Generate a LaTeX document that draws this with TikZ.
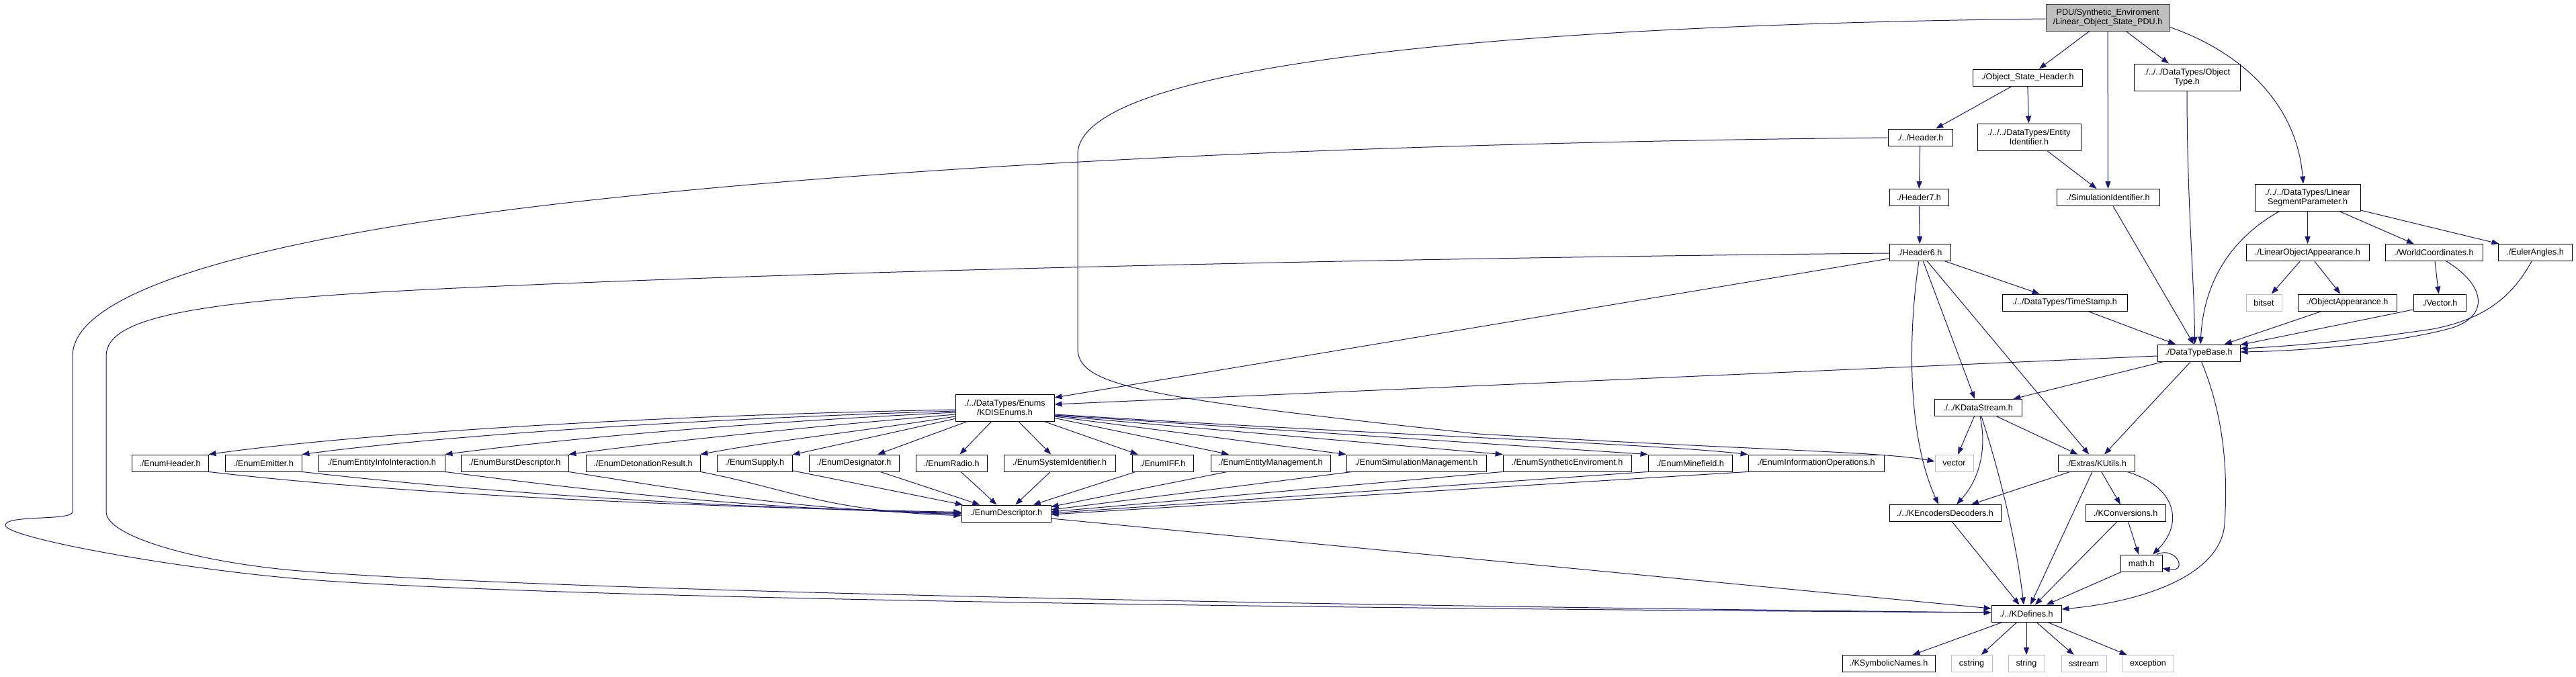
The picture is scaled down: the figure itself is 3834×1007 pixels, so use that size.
\documentclass[tikz,border=0pt]{standalone}
\usepackage{fontspec}
\setmainfont{Liberation Sans}
\usetikzlibrary{arrows.meta}
\definecolor{edgeblue}{HTML}{191970}
\definecolor{grayfill}{HTML}{BFBFBF}
\definecolor{sysgray}{HTML}{BFBFBF}
\definecolor{darkborder}{HTML}{404040}
\begin{document}
\begin{tikzpicture}[x=1pt,y=-1pt,
  fnode/.style={draw=black, fill=white, line width=0.9pt, inner sep=0pt, minimum height=25pt,
    font=\fontsize{12.6}{14}\selectfont, align=center},
  twoline/.style={minimum height=40pt},
  snode/.style={fnode, draw=sysgray},
  mnode/.style={fnode, fill=grayfill, draw=darkborder},
  dep/.style={draw=edgeblue, line width=1pt, -{Triangle[length=11pt,width=8pt]}}]
\useasboundingbox (0,0) rectangle (3834,1007);
\fill[white] (0,0) rectangle (3834,1007);

% ---------- nodes ----------
\node[mnode, twoline, minimum width=184pt] (top) at (3137,26) {PDU/Synthetic\_Enviroment\\/Linear\_Object\_State\_PDU.h};
\node[fnode, minimum width=163pt] (osh) at (3017.5,115.5) {./Object\_State\_Header.h};
\node[fnode, twoline, minimum width=154pt] (entid) at (3020,204) {./../../DataTypes/Entity\\Identifier.h};
\node[fnode, twoline, minimum width=158pt] (otype) at (3255,115) {./../../DataTypes/Object\\Type.h};
\node[fnode, minimum width=153pt] (simid) at (3137.5,294) {./SimulationIdentifier.h};
\node[fnode, twoline, minimum width=157pt] (lsp) at (3434.5,294) {./../../DataTypes/Linear\\SegmentParameter.h};
\node[fnode, minimum width=96pt] (hdr) at (2858,204.5) {./../Header.h};
\node[fnode, minimum width=88pt] (h7) at (2856,294) {./Header7.h};
\node[fnode, minimum width=91pt] (h6) at (2857.5,376) {./Header6.h};
\node[fnode, minimum width=186pt] (ts) at (3073,450.5) {./../DataTypes/TimeStamp.h};
\node[fnode, minimum width=123pt] (dtb) at (3272.5,525.5) {./DataTypeBase.h};
\node[fnode, minimum width=183pt] (loa) at (3434.5,376) {./LinearObjectAppearance.h};
\node[fnode, minimum width=145pt] (wc) at (3622.5,376) {./WorldCoordinates.h};
\node[fnode, minimum width=110pt] (euler) at (3773,376) {./EulerAngles.h};
\node[snode, minimum width=53pt] (bitset) at (3369.5,450.5) {bitset};
\node[fnode, minimum width=147pt] (oapp) at (3493.5,450.5) {./ObjectAppearance.h};
\node[fnode, minimum width=78pt] (vech) at (3631,450.5) {./Vector.h};
\node[fnode, minimum width=130pt] (kds) at (2944,607) {./../KDataStream.h};
\node[snode, minimum width=57pt] (vec) at (2908.5,689.5) {vector};
\node[fnode, minimum width=114pt] (kutils) at (3120,689.5) {./Extras/KUtils.h};
\node[fnode, minimum width=166pt] (kencdec) at (2895,764) {./../KEncodersDecoders.h};
\node[fnode, minimum width=119pt] (kconv) at (3163.5,764) {./KConversions.h};
\node[fnode, minimum width=62pt] (math) at (3187,838.5) {math.h};
\node[fnode, minimum width=104pt] (kdef) at (3016,913.5) {./../KDefines.h};
\node[fnode, minimum width=138pt] (ksym) at (2811,988) {./KSymbolicNames.h};
\node[snode, minimum width=61pt] (cstring) at (2934.5,988) {cstring};
\node[snode, minimum width=54pt] (string) at (3016,988) {string};
\node[snode, minimum width=67pt] (sstream) at (3101.5,988) {sstream};
\node[snode, minimum width=76pt] (exception) at (3197,988) {exception};
\node[fnode, twoline, minimum width=147pt] (kdis) at (1495.5,607) {./../DataTypes/Enums\\/KDISEnums.h};
\node[fnode, minimum width=133pt] (ed) at (1497.5,764.5) {./EnumDescriptor.h};
\node[fnode, minimum width=114pt] (eheader) at (253,689.5) {./EnumHeader.h};
\node[fnode, minimum width=114pt] (eemit) at (392,689.5) {./EnumEmitter.h};
\node[fnode, minimum width=188pt] (eeii) at (568,689.5) {./EnumEntityInfoInteraction.h};
\node[fnode, minimum width=160pt] (eburst) at (766,689.5) {./EnumBurstDescriptor.h};
\node[fnode, minimum width=170pt] (edet) at (957,689.5) {./EnumDetonationResult.h};
\node[fnode, minimum width=112pt] (esup) at (1123,689.5) {./EnumSupply.h};
\node[fnode, minimum width=134pt] (edes) at (1271,689.5) {./EnumDesignator.h};
\node[fnode, minimum width=106pt] (eradio) at (1416,689.5) {./EnumRadio.h};
\node[fnode, minimum width=166pt] (esysid) at (1577,689.5) {./EnumSystemIdentifier.h};
\node[fnode, minimum width=91pt] (eiff) at (1730.5,689.5) {./EnumIFF.h};
\node[fnode, minimum width=178pt] (eent) at (1891,689.5) {./EnumEntityManagement.h};
\node[fnode, minimum width=208pt] (esim) at (2108,689.5) {./EnumSimulationManagement.h};
\node[fnode, minimum width=191pt] (esyn) at (2332.5,689.5) {./EnumSyntheticEnviroment.h};
\node[fnode, minimum width=125pt] (emine) at (2515.5,689.5) {./EnumMinefield.h};
\node[fnode, minimum width=202pt] (einfo) at (2703,689.5) {./EnumInformationOperations.h};

% ---------- edges ----------
\draw[dep] (top) -- (osh);
\draw[dep] (top) -- (simid);
\draw[dep] (top) -- (otype);
\draw[dep] ([yshift=6pt]top.south east) .. controls (3330,75) and (3418,150) .. ([xshift=-6.5pt]lsp.north);
\draw[dep] ([yshift=-2pt]top.west) .. controls (2200,38) and (1604,100) .. (1604,230) -- (1604,520)
  .. controls (1606,575) and (1700,592) .. (2200,646) .. controls (2600,670) and (2800,672) .. ([yshift=2.5pt]vec.west);
\draw[dep] (osh) -- (hdr);
\draw[dep] (osh) -- (entid);
\draw[dep] (entid) -- (simid);
\draw[dep] (otype.south) .. controls (3255,300) and (3266,420) .. ([xshift=-6pt]dtb.north);
\draw[dep] (simid) -- (dtb);
\draw[dep] ([xshift=-41.5pt]lsp.south) .. controls (3320,355) and (3280,420) .. ([xshift=2.5pt]dtb.north);
\draw[dep] (lsp) -- (loa);
\draw[dep] (lsp) -- (wc);
\draw[dep] (lsp) -- (euler);
\draw[dep] (loa) -- (bitset);
\draw[dep] (loa) -- (oapp);
\draw[dep] (oapp) -- (dtb);
\draw[dep] (wc) -- (vech);
\draw[dep] ([xshift=18.5pt]wc.south) .. controls (3700,425) and (3705,470) .. (3650,488)
  .. controls (3580,508) and (3450,522) .. ([yshift=1.5pt]dtb.east);
\draw[dep] ([yshift=-10.5pt]vech.west) -- ([yshift=12pt]dtb.east);
\draw[dep] ([xshift=-5pt]euler.south) .. controls (3740,440) and (3700,475) .. (3620,490)
  .. controls (3520,505) and (3420,515) .. ([yshift=6.5pt]dtb.east);
\draw[dep] (ts) -- (dtb);
\draw[dep] (hdr) -- (h7);
\draw[dep] (h7) -- (h6);
\draw[dep] ([yshift=-0.5pt]hdr.west) .. controls (1800,215) and (1100,265) .. (700,320)
  .. controls (400,361) and (108,430) .. (108,530) -- (108,762)
  .. controls (108,776) and (8,766) .. (8,782) .. controls (8,800) and (250,845) .. (446,862)
  .. controls (800,890) and (1800,905) .. ([yshift=1.5pt]kdef.west);
\draw[dep] ([yshift=-1pt]h6.west) .. controls (2000,385) and (1200,405) .. (700,428)
  .. controls (300,446) and (158,470) .. (158,530) -- (158,762)
  .. controls (158,800) and (300,838) .. (446,850)
  .. controls (800,878) and (1800,900) .. ([yshift=1.5pt]kdef.west);
\draw[dep] ([yshift=-9pt]h6.west) -- ([yshift=15pt]kdis.east);
\draw[dep] (h6) -- (ts);
\draw[dep] (h6) -- (kds);
\draw[dep] (h6) -- (kutils);
\draw[dep] ([xshift=-1.5pt]h6.south) .. controls (2842,480) and (2835,640) .. ([xshift=-10pt]kencdec.north);
\draw[dep] ([yshift=-4.5pt]dtb.west) -- ([yshift=5pt]kdis.east);
\draw[dep] (dtb) -- (kds);
\draw[dep] (dtb) -- (kutils);
\draw[dep] ([xshift=4pt]dtb.south) .. controls (3310,620) and (3316,700) .. (3311,780)
  .. controls (3305,860) and (3180,897) .. ([yshift=6.5pt]kdef.east);
\draw[dep] (kds) -- (vec);
\draw[dep] ([xshift=3pt]kds.south) .. controls (2958,670) and (2945,715) .. ([xshift=17pt]kencdec.north);
\draw[dep] ([xshift=5pt]kds.south) .. controls (2975,700) and (3000,800) .. ([xshift=-4pt]kdef.north);
\draw[dep] (kds) -- (kutils);
\draw[dep] (kutils) -- (kencdec);
\draw[dep] (kutils) -- (kdef);
\draw[dep] (kutils) -- (kconv);
\draw[dep] ([xshift=46pt]kutils.south) .. controls (3240,725) and (3250,780) .. ([xshift=17pt]math.north);
\draw[dep] (kconv) -- (kdef);
\draw[dep] (kconv) -- (math);
\draw[dep] ([xshift=23pt]math.north) .. controls (3238,812) and (3258,852) .. ([yshift=-8pt]math.east);
\draw[dep] (math) -- (kdef);
\draw[dep] (kencdec) -- (kdef);
\draw[dep] (kdef) -- (ksym);
\draw[dep] (kdef) -- (cstring);
\draw[dep] (kdef) -- (string);
\draw[dep] (kdef) -- (sstream);
\draw[dep] (kdef) -- (exception);
\draw[dep] ([yshift=-7.5pt]ed.east) -- ([yshift=7.5pt]kdef.west);

% KDISEnums -> enums
\draw[dep] ([yshift=-3pt]kdis.west) .. controls (900,620) and (500,650) .. (eheader.north east);
\draw[dep] ([yshift=-5pt]kdis.west) .. controls (1000,625) and (650,650) .. (eemit.north east);
\draw[dep] ([yshift=-7pt]kdis.west) .. controls (1100,630) and (850,652) .. (eeii.north east);
\draw[dep] ([yshift=-10pt]kdis.west) .. controls (1200,636) and (1000,656) .. (eburst.north east);
\draw[dep] ([yshift=-13pt]kdis.west) .. controls (1300,640) and (1150,656) .. (edet.north east);
\draw[dep] (kdis) -- (esup);
\draw[dep] (kdis) -- (edes);
\draw[dep] (kdis) -- (eradio);
\draw[dep] (kdis) -- (esysid);
\draw[dep] (kdis) -- (eiff);
\draw[dep] (kdis) -- (eent);
\draw[dep] ([yshift=-13pt]kdis.east) -- (esim.north west);
\draw[dep] ([yshift=-12pt]kdis.east) -- (esyn.north west);
\draw[dep] ([yshift=-11pt]kdis.east) -- (emine.north west);
\draw[dep] ([yshift=-10pt]kdis.east) .. controls (2100,650) and (2450,660) .. (einfo.north west);

% enums -> EnumDescriptor
\draw[dep] (eheader.south east) .. controls +(300,35) and +(-400,-8) .. ([yshift=2pt]ed.west);
\draw[dep] (eemit.south east) .. controls +(280,32) and +(-350,-7) .. ([yshift=1pt]ed.west);
\draw[dep] (eeii.south east) .. controls +(230,30) and +(-300,-6) .. ([yshift=0pt]ed.west);
\draw[dep] (eburst.south east) .. controls +(180,28) and +(-250,-6) .. ([yshift=-1pt]ed.west);
\draw[dep] (edet.south east) .. controls +(130,25) and +(-200,-6) .. ([yshift=-3pt]ed.west);
\draw[dep] (esup) -- (ed);
\draw[dep] (edes) -- (ed);
\draw[dep] (eradio) -- (ed);
\draw[dep] (esysid) -- (ed);
\draw[dep] (eiff) -- (ed);
\draw[dep] ([xshift=25pt]eent.south west) -- ([yshift=10pt]ed.east);
\draw[dep] ([xshift=9pt]esim.south west) -- ([yshift=5.5pt]ed.east);
\draw[dep] (esyn.south west) -- ([yshift=2.5pt]ed.east);
\draw[dep] (emine.south west) -- ([yshift=0.5pt]ed.east);
\draw[dep] (einfo.south west) -- ([yshift=-1.5pt]ed.east);
\end{tikzpicture}
\end{document}
